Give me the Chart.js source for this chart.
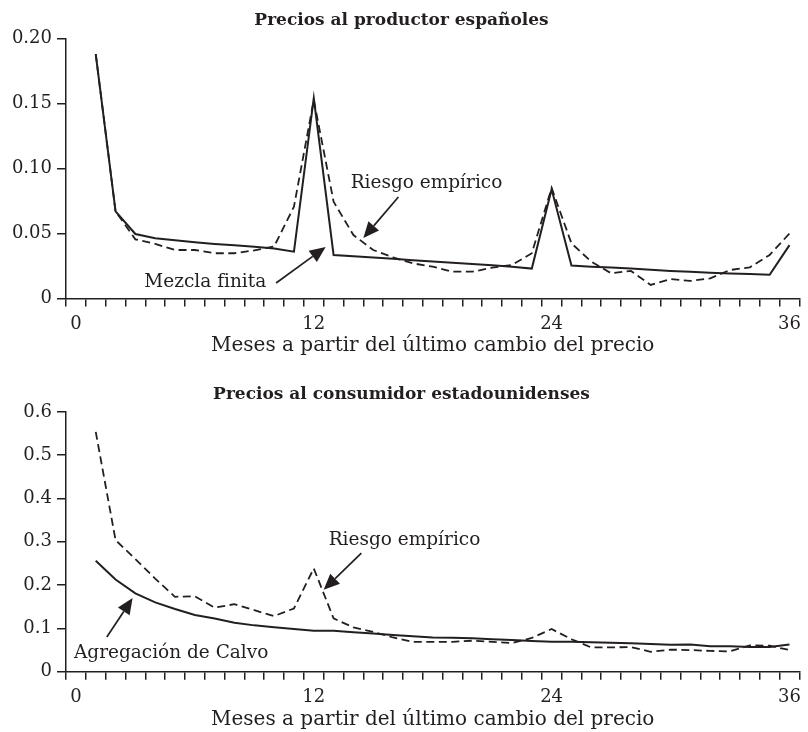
<!DOCTYPE html>
<html lang="es">
<head>
    <meta charset="UTF-8">
    <title>Riesgo de cambio de precio</title>
    <script src="https://cdn.jsdelivr.net/npm/chart.js"></script>
    <style>
        html, body {
            margin: 0;
            padding: 0;
            background: #fff;
        }
        .chart-box {
            position: relative;
            width: 808px;
        }
        #boxTop { height: 362px; }
        #boxBottom { height: 370px; }
    </style>
</head>
<body>
    <div class="chart-box" id="boxTop"><canvas id="chartTop"></canvas></div>
    <div class="chart-box" id="boxBottom"><canvas id="chartBottom"></canvas></div>
    <script>
        // meses desde el último cambio (0 no tiene dato)
        const months = ['0', '1', '2', '3', '4', '5', '6', '7', '8', '9', '10', '11', '12',
            '13', '14', '15', '16', '17', '18', '19', '20', '21', '22', '23', '24',
            '25', '26', '27', '28', '29', '30', '31', '32', '33', '34', '35', '36'];
        const xTickLabels = ['0', '12', '24', '36'];

        // Precios al productor españoles, meses 1..36
        const spainFinite = [0.188, 0.067, 0.0496, 0.0463, 0.0447, 0.0433, 0.042, 0.041, 0.0397, 0.0385, 0.036, 0.154,
            0.0335, 0.0325, 0.0315, 0.0305, 0.0295, 0.0285, 0.0275, 0.0265, 0.0255, 0.0245, 0.023, 0.084,
            0.0253, 0.0245, 0.0238, 0.023, 0.0222, 0.0212, 0.0205, 0.0198, 0.0193, 0.0188, 0.0183, 0.041];
        const spainEmpirical = [0.188, 0.067, 0.0455, 0.042, 0.0373, 0.0373, 0.0348, 0.0348, 0.037, 0.040, 0.0706, 0.1527,
            0.0745, 0.0488, 0.0373, 0.0317, 0.027, 0.0245, 0.0206, 0.0206, 0.0237, 0.0258, 0.0348, 0.085,
            0.0424, 0.0283, 0.0194, 0.0212, 0.0104, 0.015, 0.0135, 0.0155, 0.0219, 0.024, 0.0335, 0.050];
        const spainYTicks = [0, 0.05, 0.10, 0.15, 0.20];
        const spainYLabels = ['0', '0.05', '0.10', '0.15', '0.20'];

        // Precios al consumidor estadounidenses, meses 1..36
        const usCalvo = [0.256, 0.213, 0.181, 0.160, 0.1447, 0.131, 0.123, 0.113, 0.107, 0.1025, 0.0985, 0.0946,
            0.0946, 0.091, 0.088, 0.085, 0.082, 0.079, 0.0786, 0.077, 0.075, 0.073, 0.071, 0.069,
            0.069, 0.068, 0.067, 0.0655, 0.064, 0.062, 0.063, 0.059, 0.059, 0.057, 0.057, 0.063];
        const usEmpirical = [0.554, 0.304, 0.26, 0.215, 0.173, 0.174, 0.148, 0.156, 0.142, 0.1286, 0.146, 0.2386,
            0.123, 0.1025, 0.092, 0.079, 0.069, 0.069, 0.069, 0.0716, 0.069, 0.066, 0.078, 0.0985,
            0.075, 0.056, 0.056, 0.057, 0.046, 0.051, 0.050, 0.048, 0.047, 0.061, 0.060, 0.050];
        const usYTicks = [0, 0.1, 0.2, 0.3, 0.4, 0.5, 0.6];
        const usYLabels = ['0', '0.1', '0.2', '0.3', '0.4', '0.5', '0.6'];

        const ink = '#231f20';
        const family = "'DejaVu Serif', serif";

        // textos y flechas, en unidades de los ejes (mes, valor)
        const notesPlugin = {
            id: 'notes',
            afterDatasetsDraw(chart, args, opts) {
                const ctx = chart.ctx;
                const x = chart.scales.x, y = chart.scales.y;
                ctx.save();
                ctx.fillStyle = ink;
                ctx.strokeStyle = ink;
                ctx.lineWidth = 1.7;
                ctx.font = '18.5px ' + family;
                ctx.textBaseline = 'middle';
                (opts.texts || []).forEach(t => {
                    ctx.textAlign = t.align;
                    ctx.fillText(t.text, x.getPixelForValue(t.at[0]), y.getPixelForValue(t.at[1]));
                });
                (opts.arrows || []).forEach(a => {
                    const x1 = x.getPixelForValue(a.from[0]), y1 = y.getPixelForValue(a.from[1]);
                    const x2 = x.getPixelForValue(a.to[0]), y2 = y.getPixelForValue(a.to[1]);
                    const ang = Math.atan2(y2 - y1, x2 - x1);
                    const head = 16, half = 7;
                    const bx = x2 - head * Math.cos(ang), by = y2 - head * Math.sin(ang);
                    ctx.beginPath();
                    ctx.moveTo(x1, y1);
                    ctx.lineTo(bx, by);
                    ctx.stroke();
                    ctx.beginPath();
                    ctx.moveTo(x2, y2);
                    ctx.lineTo(bx + half * Math.sin(ang), by - half * Math.cos(ang));
                    ctx.lineTo(bx - half * Math.sin(ang), by + half * Math.cos(ang));
                    ctx.closePath();
                    ctx.fill();
                });
                ctx.restore();
            }
        };

        function lineSet(values, dashed) {
            return {
                data: [null].concat(values),
                borderColor: ink,
                borderWidth: dashed ? 1.8 : 2,
                borderDash: dashed ? [8, 4.5] : [],
                pointRadius: 0,
                tension: 0,
                fill: false
            };
        }

        function makeChart(id, opt) {
            return new Chart(document.getElementById(id), {
                type: 'line',
                data: {
                    labels: months,
                    datasets: [lineSet(opt.solid, false), lineSet(opt.dashed, true)]
                },
                plugins: [notesPlugin],
                options: {
                    responsive: true,
                    maintainAspectRatio: false,
                    animation: false,
                    layout: { padding: { left: 0, right: 5, top: 0, bottom: 0 } },
                    plugins: {
                        legend: { display: false },
                        tooltip: { enabled: false },
                        title: {
                            display: true,
                            text: opt.title,
                            color: ink,
                            font: { family: family, size: 17, weight: 'bold' },
                            padding: opt.titlePad
                        },
                        notes: { texts: opt.texts, arrows: opt.arrows }
                    },
                    scales: {
                        x: {
                            type: 'category',
                            offset: true,
                            afterFit: s => { s.height = opt.xHeight; },
                            grid: {
                                offset: true,
                                drawOnChartArea: false,
                                drawTicks: true,
                                tickLength: 8,
                                color: ink,
                                lineWidth: 1.5
                            },
                            border: { display: true, color: ink, width: 1.5 },
                            ticks: {
                                autoSkip: false,
                                maxRotation: 0,
                                padding: 7,
                                color: ink,
                                font: { family: family, size: 18 },
                                callback: (v, i) => xTickLabels.includes(months[i]) ? months[i] : ''
                            },
                            title: {
                                display: true,
                                text: 'Meses a partir del último cambio del precio',
                                color: ink,
                                font: { family: family, size: 20 },
                                padding: { top: 0, bottom: opt.xTitlePad }
                            }
                        },
                        y: {
                            min: opt.yTicks[0],
                            max: opt.yTicks[opt.yTicks.length - 1],
                            afterFit: s => { s.width = 66; },
                            afterBuildTicks: s => { s.ticks = opt.yTicks.map(v => ({ value: v })); },
                            grid: {
                                drawOnChartArea: false,
                                drawTicks: true,
                                tickLength: 9,
                                color: ink,
                                lineWidth: 1.5
                            },
                            border: { display: true, color: ink, width: 1.5 },
                            ticks: {
                                padding: 5,
                                color: ink,
                                font: { family: family, size: 18 },
                                callback: (v, i) => opt.yLabels[i]
                            }
                        }
                    }
                }
            });
        }

        makeChart('chartTop', {
            title: 'Precios al productor españoles',
            titlePad: { top: 10, bottom: 8 },
            xHeight: 63.5,
            xTitlePad: 4,
            solid: spainFinite,
            dashed: spainEmpirical,
            yTicks: spainYTicks,
            yLabels: spainYLabels,
            texts: [
                { text: 'Riesgo empírico', at: [13.86, 0.0888], align: 'left' },
                { text: 'Mezcla finita', at: [9.6, 0.0127], align: 'right' }
            ],
            arrows: [
                { from: [16.27, 0.078], to: [14.5, 0.0465] },
                { from: [10.1, 0.0119], to: [12.6, 0.0396] }
            ]
        });

        makeChart('chartBottom', {
            title: 'Precios al consumidor estadounidenses',
            titlePad: { top: 22, bottom: 7.5 },
            xHeight: 60.3,
            xTitlePad: 0,
            solid: usCalvo,
            dashed: usEmpirical,
            yTicks: usYTicks,
            yLabels: usYLabels,
            texts: [
                { text: 'Riesgo empírico', at: [12.75, 0.304], align: 'left' },
                { text: 'Agregación de Calvo', at: [-0.1, 0.043], align: 'left' }
            ],
            arrows: [
                { from: [14.4, 0.274], to: [12.5, 0.189] },
                { from: [1.56, 0.080], to: [2.86, 0.170] }
            ]
        });
    </script>
</body>
</html>
